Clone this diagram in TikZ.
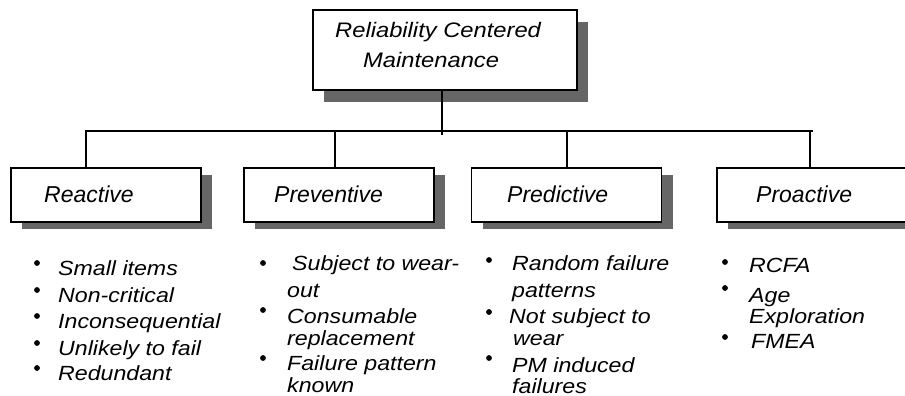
\documentclass[tikz,border=0pt]{standalone}
\usepackage{fontspec}
\setmainfont{Liberation Sans}
\newfontfamily\stretchfont{Liberation Sans}[FakeStretch=1.13]
\newfontfamily\topfont{Liberation Sans}[FakeStretch=1.13]
\usetikzlibrary{shadows}
\definecolor{shgray}{RGB}{102,102,102}
\begin{document}
\begin{tikzpicture}[x=1pt,y=-1pt,
  boxbase/.style={draw=black, line width=1.3pt, fill=white, rectangle, inner sep=0pt},
  topbox/.style={boxbase, minimum width=264pt, minimum height=80pt,
     drop shadow={shadow xshift=11pt, shadow yshift=-12pt, fill=shgray, opacity=1}},
  childbox/.style={boxbase, minimum width=190pt, minimum height=54pt,
     drop shadow={shadow xshift=11pt, shadow yshift=-7pt, fill=shgray, opacity=1}},
  conn/.style={line width=1.2pt, black},
  toptext/.style={anchor=base west, inner sep=0pt, font=\topfont\fontsize{21}{25}\selectfont\itshape},
  childtext/.style={anchor=base west, inner sep=0pt, font=\fontsize{23}{27}\selectfont\itshape},
  itemtext/.style={anchor=base west, inner sep=0pt, font=\stretchfont\fontsize{20.5}{24}\selectfont\itshape},
  dot/.style={fill=black}
]
\useasboundingbox (0,0) rectangle (905,396);

% boxes
\node[topbox] (rcm) at (445,50) {};
\node[childbox] (reactive) at (106,195) {};
\node[childbox] (preventive) at (339,195) {};
\node[childbox] (predictive) at (566.5,195) {};
\node[childbox] (proactive) at (812,195) {};

% box labels
\node[toptext] (rcm1) at (335,38) {Reliability Centered};
\node[toptext] (rcm2) at (363,67) {Maintenance};
\node[childtext] (reactiveL) at (44,202) {Reactive};
\node[childtext] (preventiveL) at (274,202) {Preventive};
\node[childtext] (predictiveL) at (507,202) {Predictive};
\node[childtext] (proactiveL) at (756,202) {Proactive};

% connectors
\coordinate (busL) at (85,131);
\coordinate (busR) at (813,131);
\coordinate (hubend) at (442,135);
\coordinate (b1) at (86,131);
\coordinate (b2) at (335,131);
\coordinate (b3) at (567,131);
\coordinate (b4) at (810,131);
\draw[conn] (busL) -- (busR);
\draw[conn] (rcm.south -| hubend) -- (hubend);
\draw[conn] (b1) -- (b1 |- reactive.north);
\draw[conn] (b2) -- (b2 |- preventive.north);
\draw[conn] (b3) -- (b3 |- predictive.north);
\draw[conn] (b4) -- (b4 |- proactive.north);

% Reactive list
\foreach \yy in {263,290,316,343,368} \fill[dot] (37,\yy) circle (2.9);
\node[itemtext] (ra) at (58,275) {Small items};
\node[itemtext] (rb) at (58,302) {Non-critical};
\node[itemtext] (rc) at (58,328) {Inconsequential};
\node[itemtext] (rd) at (58,355) {Unlikely to fail};
\node[itemtext] (re) at (58,380) {Redundant};

% Preventive list
\foreach \yy in {263,310,358} \fill[dot] (263,\yy) circle (2.9);
\node[itemtext] (pa1) at (292,270) {Subject to wear-};
\node[itemtext] (pa2) at (287,297) {out};
\node[itemtext] (pb1) at (287,323) {Consumable};
\node[itemtext] (pb2) at (287,345) {replacement};
\node[itemtext] (pc1) at (287,370) {Failure pattern};
\node[itemtext] (pc2) at (287,392) {known};

% Predictive list
\foreach \yy in {260,312,358} \fill[dot] (489,\yy) circle (2.9);
\node[itemtext] (da1) at (512,270) {Random failure};
\node[itemtext] (da2) at (512,297) {patterns};
\node[itemtext] (db1) at (509,323) {Not subject to};
\node[itemtext] (db2) at (513,345) {wear};
\node[itemtext] (dc1) at (512,372) {PM induced};
\node[itemtext] (dc2) at (512,393) {failures};

% Proactive list
\foreach \yy in {262,288,337} \fill[dot] (725,\yy) circle (2.9);
\node[itemtext] (xa) at (749,272) {RCFA};
\node[itemtext] (xb1) at (749,302) {Age};
\node[itemtext] (xb2) at (749,323) {Exploration};
\node[itemtext] (xc) at (751,348) {FMEA};
\end{tikzpicture}
\end{document}
